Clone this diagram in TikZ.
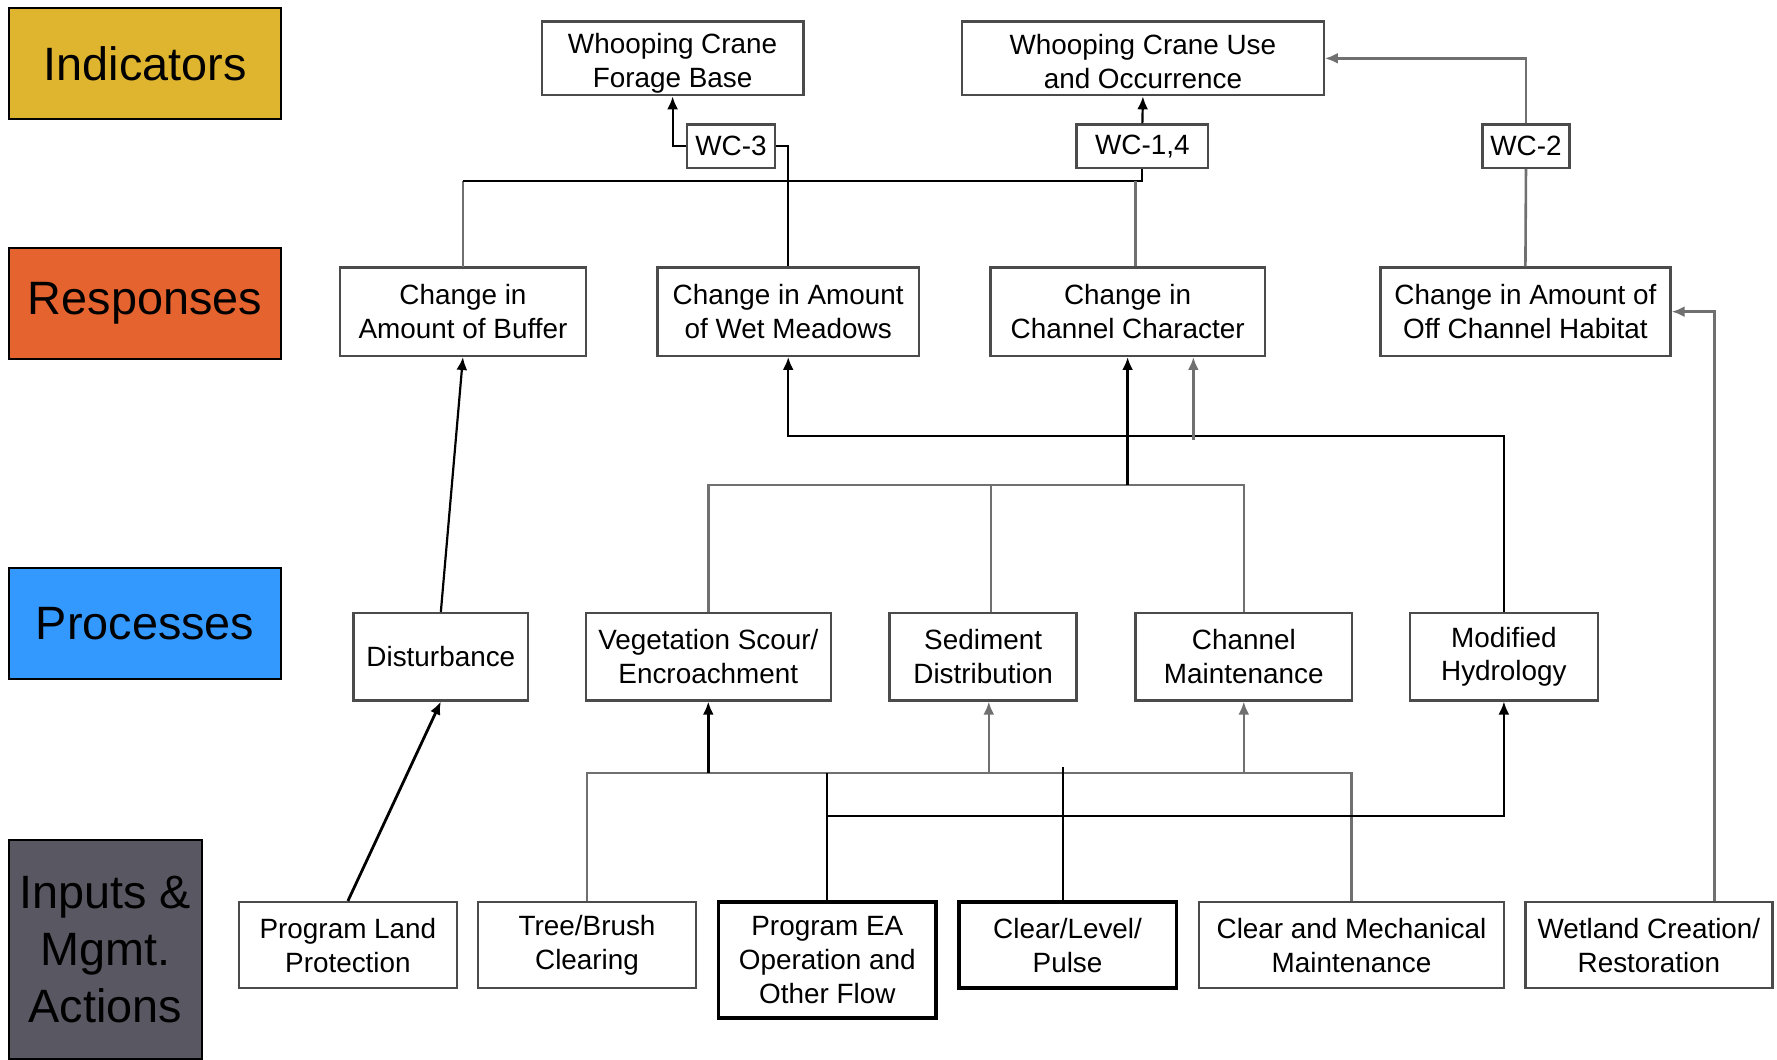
\documentclass[tikz,border=0pt]{standalone}
\usepackage{fontspec}
\setmainfont{Liberation Sans}
\usepackage{tikz}
\usetikzlibrary{positioning, arrows.meta, calc}

\definecolor{indgold}{RGB}{223,181,47}
\definecolor{resporange}{RGB}{229,99,46}
\definecolor{procblue}{RGB}{51,153,255}
\definecolor{inpgray}{RGB}{89,88,98}
\definecolor{wiregray}{RGB}{112,112,112}
\definecolor{edgegray}{RGB}{75,75,75}

\newcommand{\boxfont}{\fontsize{14}{17}\selectfont}
\newcommand{\catfont}{\fontsize{23.5}{28.5}\selectfont}

\begin{document}
\begin{tikzpicture}[x=0.2mm, y=-0.2mm,
	sz/.style 2 args={minimum width=#1*0.2mm, minimum height=#2*0.2mm},
	cbox/.style={draw=edgegray, line width=1.2pt, fill=white, align=center, inner sep=0pt, font=\boxfont},
	boldbox/.style={cbox, draw=black, line width=1.8pt},
	cat/.style={draw=black, line width=1.2pt, align=center, inner sep=0pt, font=\catfont},
	wire/.style={draw=wiregray, line width=1.3pt},
	wireb/.style={draw=black, line width=1.1pt},
	arr/.style={-{Latex[length=6.5pt, width=5.5pt]}}]
	
	\useasboundingbox[fill=white] (0,0) rectangle (1568,935);
	
	\node[cat, fill=indgold, sz={240}{98}] (ind) at (128,56) {Indicators};
	\node[cat, fill=resporange, sz={240}{98}] (resp) at (128,268) {Responses};
	\node[cat, fill=procblue, sz={240}{98}] (proc) at (128,550) {Processes};
	\node[cat, fill=inpgray, sz={170}{194}] (inp) at (93,838) {Inputs \&\\Mgmt.\\Actions};
	
	\node[cbox, sz={231}{65}] (forage) at (593.5,51.5) {\rule{0pt}{15.5pt}Whooping Crane\\Forage Base};
	\node[cbox, sz={319}{65}] (wcuse) at (1008.5,51.5) {\rule{0pt}{13pt}Whooping Crane Use\\and Occurrence};
	\node[cbox, sz={78}{38}] (wc3) at (645,129) {WC-3};
	\node[cbox, sz={116}{38}] (wc14) at (1008,129) {WC-1,4};
	\node[cbox, sz={77}{38}] (wc2) at (1346.5,129) {WC-2};
	
	\node[cbox, sz={217}{78}] (buf) at (408.5,275) {Change in\\Amount of Buffer};
	\node[cbox, sz={231}{78}] (wet) at (695.5,275) {Change in Amount\\of Wet Meadows};
	\node[cbox, sz={242}{78}] (chan) at (995,275) {Change in\\Channel Character};
	\node[cbox, sz={256}{78}] (off) at (1346,275) {Change in Amount of\\Off Channel Habitat};
	
	\node[cbox, sz={154}{77}] (dist) at (389,579.5) {Disturbance};
	\node[cbox, sz={216}{77}] (veg) at (625,579.5) {Vegetation Scour/\\Encroachment};
	\node[cbox, sz={165}{77}] (sed) at (867.5,579.5) {Sediment\\Distribution};
	\node[cbox, sz={191}{77}] (cmaint) at (1097.5,579.5) {Channel\\Maintenance};
	\node[cbox, sz={166}{77}] (hyd) at (1327,579.5) {Modified\\Hydrology};
	
	\node[cbox, sz={192}{76}] (plp) at (307,834) {Program Land\\Protection};
	\node[cbox, sz={192}{76}] (tree) at (518,834) {Tree/Brush\\Clearing};
	\node[boldbox, sz={192}{102}] (prog) at (730,847) {Program EA\\Operation and\\Other Flow};
	\node[boldbox, sz={192}{76}] (clp) at (942,834) {Clear/Level/\\Pulse};
	\node[cbox, sz={269}{76}] (cmm) at (1192.5,834) {Clear and Mechanical\\Maintenance};
	\node[cbox, sz={218}{76}] (wetl) at (1455,834) {Wetland Creation/\\Restoration};
	
	\coordinate (topbar) at (0,160);
	\coordinate (hydbar) at (0,385);
	\coordinate (midbar) at (0,428);
	\coordinate (inbar) at (0,682);
	\coordinate (lowbar) at (0,720);
	
	\draw[wire] ($(buf.north)+(0,1)$) -- (buf.north |- topbar);
	\draw[wireb] (buf.north |- topbar) -| (wc14.south);
	\draw[wire] ($(chan.north)+(7,0)$) -- ($(chan.north |- topbar)+(7,0)$);
	\draw[wireb] (wet.north) |- (wc3.east);
	\draw[wireb, arr] (wc3.west) -| (forage.south);
	\draw[wireb, arr] (wc14.north) -- (wcuse.south);
	\draw[wire] (off.north) -- (wc2.south);
	\draw[wire, arr] (wc2.north) |- (wcuse.east);
	\draw[wire, arr] ($(wetl.north)+(58,0)$) |- (off.east);
	
	\draw[wireb, arr] (dist.north) -- (buf.south);
	\draw[wire] (veg.north) |- (cmaint.north |- midbar) -- (cmaint.north);
	\draw[wire] ($(sed.north)+(7,0)$) -- ($(sed.north |- midbar)+(7,0)$);
	\draw[wireb, line width=1.6pt, arr] (chan.south |- midbar) -- (chan.south);
	\draw[wireb, arr] (hyd.north) |- (wet.south |- hydbar) -- (wet.south);
	\draw[wire, arr] ($(chan.south |- hydbar)+(58,3)$) -- ($(chan.south)+(58,0)$);
	
	\draw[wireb, line width=1.4pt, arr] (plp.north) -- (dist.south);
	\draw[wire] (tree.north) |- (cmm.north |- inbar) -- (cmm.north);
	\draw[wireb, line width=1.6pt, arr] (veg.south |- inbar) -- (veg.south);
	\draw[wire, arr] ($(sed.south |- inbar)+(5,0)$) -- ($(sed.south)+(5,0)$);
	\draw[wire, arr] (cmaint.south |- inbar) -- (cmaint.south);
	\draw[wireb] (prog.north) -- (prog.north |- inbar);
	\draw[wireb, arr] (prog.north |- lowbar) -| (hyd.south);
	\draw[wireb] ($(clp.north)+(-4,0)$) -- ($(clp.north |- inbar)+(-4,-5)$);
	
\end{tikzpicture}
\end{document}
